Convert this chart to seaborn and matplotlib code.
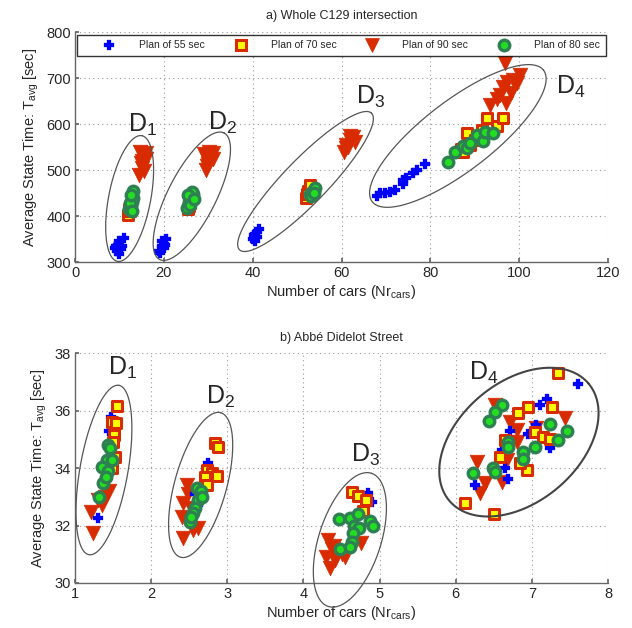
import numpy as np
import pandas as pd
import matplotlib
matplotlib.use('Agg')
import matplotlib.pyplot as plt
from matplotlib.lines import Line2D
import seaborn as sns

# ---- a) Whole C129 intersection ----
top_x55 = [9.0, 9.5, 10.0, 10.5, 10.0, 11.0, 9.6, 10.3, 9.2,
           19.0, 19.5, 20.0, 20.0, 19.5, 20.5, 19.2, 20.2,
           40.0, 40.5, 41.0, 41.5, 40.5, 41.0, 40.2,
           68.0, 68.7, 69.8, 70.9, 72.0, 73.9, 73.9, 74.5, 76.1, 77.0, 78.8]
top_y55 = [330, 325, 318, 335, 345, 353, 338, 328, 335,
           325, 335, 340, 330, 345, 350, 320, 338,
           350, 360, 365, 372, 345, 355, 358,
           444, 451, 451, 452, 456, 470, 478, 482, 493, 500, 513]

top_x70 = [12.0, 12.4, 12.2,
           25.5, 25.7, 26.0,
           52.0, 52.5, 53.0, 52.2,
           87.0, 87.4, 88.3, 88.9, 90.0, 91.6, 92.8, 95.0, 96.4]
top_y70 = [402, 410, 415,
           415, 422, 428,
           440, 455, 468, 448,
           545, 539, 580, 554, 565, 588, 613, 595, 613]

top_x90 = [14.5, 15.0, 15.0, 15.5, 16.0, 14.8, 15.5, 16.0, 14.6,
           29.5, 30.0, 30.5, 31.0, 29.8, 31.0, 30.2, 30.0, 29.0,
           60.5, 61.0, 62.0, 62.5, 63.0, 61.5, 62.0, 61.0,
           93.4, 95.0, 95.7, 96.4, 96.8, 97.1, 97.3, 98.1, 98.6, 100.2, 99.5]
top_y90 = [490, 505, 520, 532, 538, 515, 498, 525, 540,
           500, 520, 530, 537, 508, 525, 540, 512, 535,
           540, 555, 565, 572, 560, 550, 575, 548,
           641, 655, 663, 680, 733, 645, 691, 667, 696, 706, 690]

top_x80 = [12.2, 12.5, 12.8, 13.0, 13.0, 12.4, 12.7, 12.9,
           25.3, 25.6, 26.0, 26.5, 25.8, 26.3, 25.5, 26.8,
           53.0, 53.5, 54.0, 53.2, 53.8,
           84.0, 85.6, 87.4, 88.2, 88.9, 90.4, 91.9, 92.3, 94.1]
top_y80 = [415, 422, 430, 440, 455, 428, 445, 410,
           418, 430, 440, 448, 425, 452, 445, 438,
           448, 455, 460, 443, 450,
           517, 539, 553, 548, 559, 577, 563, 583, 580]

# ---- b) Abbé Didelot Street ----
bot_x55 = [1.47, 1.30, 1.48, 1.45,
           2.75, 2.57, 2.62,
           4.85, 4.90,
           7.61, 7.20, 7.11, 6.71, 6.95, 7.24, 6.61, 6.65, 6.69, 6.25, 7.06]
bot_y55 = [35.77, 32.26, 34.7, 35.3,
           34.17, 33.1, 32.7,
           33.13, 32.82,
           36.92, 36.4, 36.19, 35.29, 35.18, 34.69, 34.63, 34.0, 33.62, 33.41, 35.5]

bot_x70 = [1.55, 1.49, 1.54, 1.51, 1.50, 1.49, 1.52,
           2.84, 2.88, 2.73, 2.80, 2.87, 2.71, 2.74,
           4.64, 4.72, 4.82, 4.78,
           7.34, 6.12, 6.50, 6.95, 6.82, 7.26, 7.04, 7.15, 7.24, 6.65, 6.58, 6.94, 6.85]
bot_y70 = [36.15, 35.6, 35.57, 35.15, 34.9, 34.0, 34.4,
           34.87, 34.73, 33.93, 33.83, 33.72, 33.7, 33.4,
           33.17, 33.03, 32.89, 32.5,
           37.30, 32.78, 32.40, 36.12, 35.91, 36.12, 35.25, 35.08, 35.0, 34.97, 34.38, 33.93, 34.17]

bot_x90 = [1.21, 1.24, 1.40, 1.35, 1.44, 1.30,
           2.47, 2.42, 2.41, 2.42, 2.55, 2.62, 2.49, 2.52,
           4.32, 4.38, 4.30, 4.35, 4.42, 4.50, 4.75, 4.55, 4.40,
           6.52, 7.43, 6.71, 6.80, 6.80, 6.67, 6.28, 6.38, 6.32, 6.61, 7.06]
bot_y90 = [32.47, 31.74, 33.0, 32.7, 33.2, 32.9,
           33.4, 32.8, 32.3, 31.57, 31.85, 31.9, 33.1, 32.6,
           31.5, 31.2, 30.9, 30.52, 30.8, 31.0, 31.4, 30.9, 31.3,
           36.19, 35.74, 35.6, 35.32, 34.9, 34.28, 34.21, 33.48, 33.13, 33.52, 35.39]

bot_x80 = [1.43, 1.46, 1.42, 1.36, 1.43, 1.37, 1.32, 1.49, 1.41,
           2.60, 2.65, 2.62, 2.58, 2.55, 2.51, 2.67, 2.53,
           4.47, 4.61, 4.72, 4.87, 4.91, 4.67, 4.73, 4.65, 4.64, 4.48, 4.61,
           6.61, 6.52, 6.44, 7.24, 7.46, 7.34, 7.04, 6.89, 6.89, 6.69, 6.69, 6.49, 6.52, 6.23]
bot_y80 = [34.8, 34.7, 34.28, 34.04, 33.9, 33.48, 33.0, 34.28, 33.7,
           33.3, 33.2, 32.9, 32.6, 32.43, 32.12, 33.0, 32.3,
           32.23, 32.26, 32.4, 32.16, 32.0, 31.97, 31.9, 31.74, 31.43, 31.18, 31.25,
           36.19, 35.95, 35.63, 35.53, 35.29, 34.97, 34.73, 34.56, 34.31, 34.9, 34.73, 34.0, 33.86, 33.83]

plan_labels = ['Plan of 55 sec', 'Plan of 70 sec', 'Plan of 90 sec', 'Plan of 80 sec']
cluster_names = ['1', '2', '3', '4']

sns.set_theme(style='white')
plt.rcParams['font.family'] = ['Liberation Sans', 'DejaVu Sans']
plt.rcParams['mathtext.fontset'] = 'custom'
plt.rcParams['mathtext.rm'] = 'Liberation Sans'
plt.rcParams['mathtext.it'] = 'Liberation Sans'

RED = '#d92b00'
BLUE = '#0000ff'
YEL = '#ffff00'
GFACE = '#22dd22'
GEDGE = '#2e8052'

styles = {
    '55': dict(marker='P', s=42, color=BLUE, edgecolor=BLUE, linewidth=0.2),
    '90': dict(marker='v', s=110, color=RED, edgecolor=RED, linewidth=0.5),
    '70': dict(marker='s', s=48, color=YEL, edgecolor=RED, linewidth=2.2),
    '80': dict(marker='o', s=58, color=GFACE, edgecolor=GEDGE, linewidth=2.4),
}

fig = plt.figure(figsize=(6.32, 6.28), dpi=100)
ax1 = fig.add_axes([75 / 632, 1 - 262 / 628, 533 / 632, 230 / 628])
ax2 = fig.add_axes([75 / 632, 1 - 583 / 628, 533 / 632, 230 / 628])


def draw_panel(ax, data):
    # triangles first, then crosses, squares and circles on top
    for key in ['90', '55', '70', '80']:
        xs, ys = data[key]
        df = pd.DataFrame({'x': xs, 'y': ys})
        sns.scatterplot(data=df, x='x', y='y', ax=ax, zorder=3, **styles[key])


def ellipse(ax, cx, cy, a, b, ang, lw=0.9, col='#555555'):
    # a, b in pixels, angle in screen space
    x0, x1 = ax.get_xlim()
    y0, y1 = ax.get_ylim()
    ppx = 533 / (x1 - x0)
    ppy = 230 / (y1 - y0)
    t = np.linspace(0, 2 * np.pi, 200)
    r = np.deg2rad(ang)
    dx = a * np.cos(t) * np.cos(r) - b * np.sin(t) * np.sin(r)
    dy = a * np.cos(t) * np.sin(r) + b * np.sin(t) * np.cos(r)
    ax.plot(cx + dx / ppx, cy + dy / ppy, color=col, lw=lw, zorder=4, clip_on=False)


def style_axes(ax, xlim, ylim, xt, yt, title):
    ax.set_xlim(*xlim)
    ax.set_ylim(*ylim)
    ax.set_xticks(xt)
    ax.set_yticks(yt)
    ax.grid(True, linestyle=(0, (1, 3)), color='#9a9a9a', linewidth=0.8)
    ax.set_axisbelow(True)
    for sp in ['top', 'right']:
        ax.spines[sp].set_visible(False)
    for sp in ['left', 'bottom']:
        ax.spines[sp].set_color('#666666')
        ax.spines[sp].set_linewidth(1.0)
    ax.tick_params(direction='in', length=3, color='#666666', labelsize=10.5,
                   pad=3, left=True, bottom=True)
    ax.set_title(title, fontsize=9, pad=9)
    ax.set_xlabel('Number of cars (Nr$_{cars}$)', fontsize=10.5, labelpad=2)
    ax.set_ylabel('Average State Time: T$_{avg}$ [sec]', fontsize=10.5, labelpad=4)


style_axes(ax1, (0, 120), (300, 800), range(0, 121, 20), range(300, 801, 100),
           'a) Whole C129 intersection')
style_axes(ax2, (1, 8), (30, 38), range(1, 9), range(30, 39, 2),
           'b) Abbé Didelot Street')

draw_panel(ax1, {'55': (top_x55, top_y55), '70': (top_x70, top_y70),
                 '90': (top_x90, top_y90), '80': (top_x80, top_y80)})
draw_panel(ax2, {'55': (bot_x55, bot_y55), '70': (bot_x70, bot_y70),
                 '90': (bot_x90, bot_y90), '80': (bot_x80, bot_y80)})

# cluster ellipses
ellipse(ax1, 12.3, 438, 64, 21, 79)
ellipse(ax1, 26.3, 443, 71, 24, 63)
ellipse(ax1, 51.9, 475, 95, 22, 46)
ellipse(ax1, 86.2, 574, 108, 35, 37.5)
ellipse(ax2, 1.38, 33.93, 86, 24, 80)
ellipse(ax2, 2.65, 33.41, 75, 26, 74.5)
ellipse(ax2, 4.61, 31.5, 70, 31, 72)
ellipse(ax2, 6.83, 34.9, 91, 60, 40, lw=1.5, col='#444444')

top_lbl = [(11.9, 598), (29.9, 602), (63.3, 659), (108.3, 680)]
bot_lbl = [(1.43, 37.48), (2.72, 36.47), (4.62, 34.45), (6.17, 37.30)]
for ax, pos in [(ax1, top_lbl), (ax2, bot_lbl)]:
    for name, (px, py) in zip(cluster_names, pos):
        ax.text(px, py, 'D$_{' + name + '}$', fontsize=18, ha='left', va='center', zorder=5)

# legend on top panel
handles = []
for key, lab in zip(['55', '70', '90', '80'], plan_labels):
    st = styles[key]
    handles.append(Line2D([], [], linestyle='none', marker=st['marker'],
                          markersize=np.sqrt(st['s']), markerfacecolor=st['color'],
                          markeredgecolor=st['edgecolor'],
                          markeredgewidth=st['linewidth'], label=lab))
leg = ax1.legend(handles=handles, ncol=4, loc='upper left',
                 bbox_to_anchor=(0.004, 0.988, 0.992, 0.0), mode='expand',
                 fontsize=7.5, frameon=True, fancybox=False, borderpad=0.55,
                 handletextpad=0.4, columnspacing=0.5, handlelength=5.0,
                 borderaxespad=0.0)
leg.get_frame().set_edgecolor('black')
leg.get_frame().set_linewidth(1.0)
leg.set_zorder(10)

fig.savefig('out.png', dpi=100)
